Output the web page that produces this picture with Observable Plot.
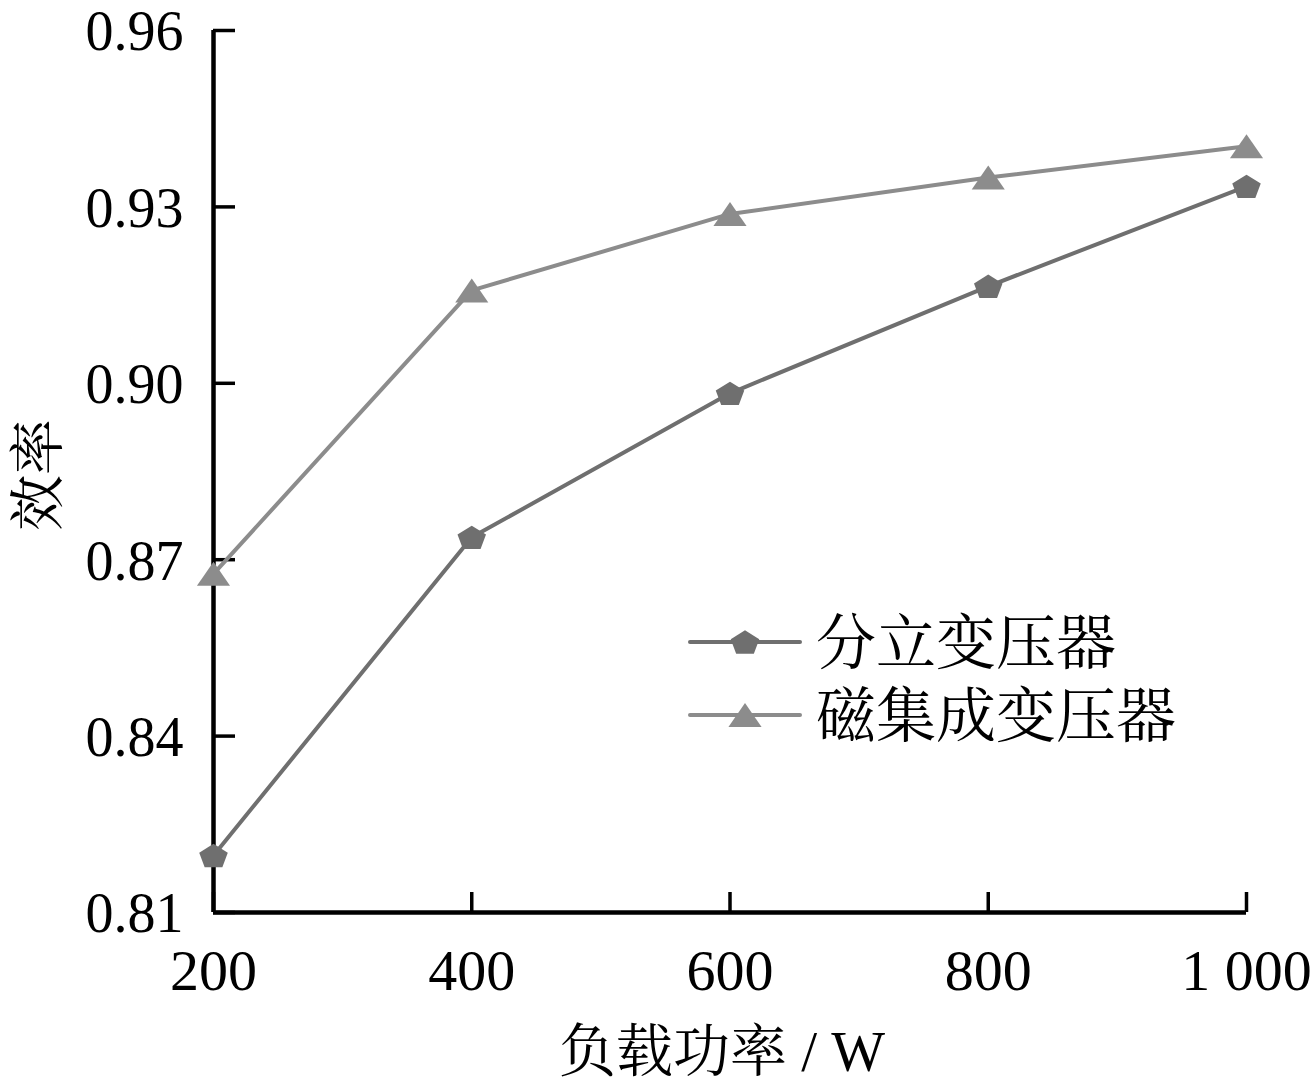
<!DOCTYPE html>
<html>
<head>
<meta charset="utf-8">
<script src="https://cdn.jsdelivr.net/npm/d3@7"></script>
<script src="https://cdn.jsdelivr.net/npm/@observablehq/plot@0.6"></script>
<style>
  html, body { margin: 0; padding: 0; background: #fff; }
  #wrap { position: relative; width: 1315px; height: 1088px; }
  .cjk { font-family: "Liberation Serif", "Noto Serif CJK SC", "Noto Sans CJK SC", serif; }
  #legend { position: absolute; left: 0; top: 0; pointer-events: none; }
  #ylabel { position: absolute; left: 33px; top: 475px; transform: translate(-50%, -50%) rotate(-90deg); font-size: 56px; white-space: nowrap; color: #000; }
  #xlabel { position: absolute; left: 722px; top: 1046px; transform: translate(-50%, -50%); font-size: 57px; white-space: nowrap; color: #000; }
</style>
</head>
<body>
<div id="wrap"></div>
<script>
// ---- data ----
const loads = [200, 400, 600, 800, 1000];
const discrete = [0.8197, 0.8738, 0.8983, 0.9165, 0.9335];   // 分立变压器
const integrated = [0.8676, 0.9158, 0.9288, 0.9350, 0.9403]; // 磁集成变压器
const seriesNames = ["分立变压器", "磁集成变压器"];
const xTicks = [200, 400, 600, 800, 1000];
const xTickLabels = ["200", "400", "600", "800", "1 000"];
const yTicks = [0.81, 0.84, 0.87, 0.90, 0.93, 0.96];
const xTitle = "负载功率 / W";
const yTitle = "效率";

const colors = ["#6f6f6f", "#8c8c8c"];

const pentagon = {
  draw(ctx, size) {
    const R = Math.sqrt(size / Math.PI);
    for (let i = 0; i < 5; i++) {
      const a = -Math.PI / 2 + i * 2 * Math.PI / 5;
      const x = R * Math.cos(a);
      const y = (R * Math.sin(a) + 0.0955 * R) * 0.86;
      if (i) ctx.lineTo(x, y); else ctx.moveTo(x, y);
    }
    ctx.closePath();
  }
};
const triangle = {
  draw(ctx, size) {
    const h = Math.sqrt(size / Math.PI);
    const w = h * 1.38;
    ctx.moveTo(0, -h);
    ctx.lineTo(w, h);
    ctx.lineTo(-w, h);
    ctx.closePath();
  }
};

const rows = [];
loads.forEach((x, i) => {
  rows.push({x, y: discrete[i], s: seriesNames[0]});
});
loads.forEach((x, i) => {
  rows.push({x, y: integrated[i], s: seriesNames[1]});
});
const rowsA = rows.filter(d => d.s === seriesNames[0]);
const rowsB = rows.filter(d => d.s === seriesNames[1]);

const chart = Plot.plot({
  width: 1315,
  height: 1088,
  marginLeft: 213,
  marginRight: 69,
  marginTop: 30,
  marginBottom: 176,
  style: { fontFamily: "Liberation Serif, serif", background: "#fff", color: "#000" },
  x: { domain: [200, 1000] },
  y: { domain: [0.81, 0.96] },
  marks: [
    Plot.axisY({ ticks: yTicks, tickSize: -22, tickFormat: () => "", strokeWidth: 3.5, label: null }),
    Plot.axisY({ ticks: yTicks, tickSize: 0, tickPadding: 30, tickFormat: d3.format(".2f"), fontSize: 56, dy: 2, label: null }),
    Plot.axisX({ ticks: xTicks, tickSize: -20, tickPadding: 56, tickFormat: (d) => xTickLabels[xTicks.indexOf(d)], fontSize: 58, strokeWidth: 3.5, label: null }),
    Plot.ruleX([200], { stroke: "#000", strokeWidth: 4.5 }),
    Plot.ruleY([0.81], { stroke: "#000", strokeWidth: 4.5 }),
    Plot.line(rowsA, { x: "x", y: "y", stroke: colors[0], strokeWidth: 4 }),
    Plot.line(rowsB, { x: "x", y: "y", stroke: colors[1], strokeWidth: 4 }),
    Plot.dot(rowsA, { x: "x", y: "y", symbol: pentagon, r: 15, fill: colors[0], stroke: "none" }),
    Plot.dot(rowsB, { x: "x", y: "y", symbol: triangle, r: 12, fill: colors[1], stroke: "none" })
  ]
});

const wrap = document.getElementById("wrap");
wrap.appendChild(chart);

// legend overlay
const ns = "http://www.w3.org/2000/svg";
const leg = document.createElementNS(ns, "svg");
leg.setAttribute("id", "legend");
leg.setAttribute("width", 1315);
leg.setAttribute("height", 1088);
const legendItems = [
  { name: seriesNames[0], color: colors[0], sym: pentagon, r: 15, y: 642 },
  { name: seriesNames[1], color: colors[1], sym: triangle, r: 12, y: 715 }
];
legendItems.forEach(it => {
  const line = document.createElementNS(ns, "line");
  line.setAttribute("x1", 690); line.setAttribute("x2", 800);
  line.setAttribute("y1", it.y); line.setAttribute("y2", it.y);
  line.setAttribute("stroke", it.color); line.setAttribute("stroke-width", 4);
  line.setAttribute("stroke-linecap", "round");
  leg.appendChild(line);
  const p = document.createElementNS(ns, "path");
  const path = d3.path();
  it.sym.draw(path, it.r * it.r * Math.PI);
  p.setAttribute("d", path.toString());
  p.setAttribute("transform", `translate(745,${it.y})`);
  p.setAttribute("fill", it.color);
  leg.appendChild(p);
  const t = document.createElementNS(ns, "text");
  t.setAttribute("x", 816);
  t.setAttribute("y", it.y + 8);
  t.setAttribute("dominant-baseline", "middle");
  t.setAttribute("class", "cjk");
  t.setAttribute("font-size", 60);
  t.setAttribute("fill", "#000");
  t.textContent = it.name;
  leg.appendChild(t);
});
wrap.appendChild(leg);

const yl = document.createElement("div");
yl.id = "ylabel"; yl.className = "cjk"; yl.textContent = yTitle;
wrap.appendChild(yl);
const xl = document.createElement("div");
xl.id = "xlabel"; xl.className = "cjk"; xl.textContent = xTitle;
wrap.appendChild(xl);
</script>
</body>
</html>
